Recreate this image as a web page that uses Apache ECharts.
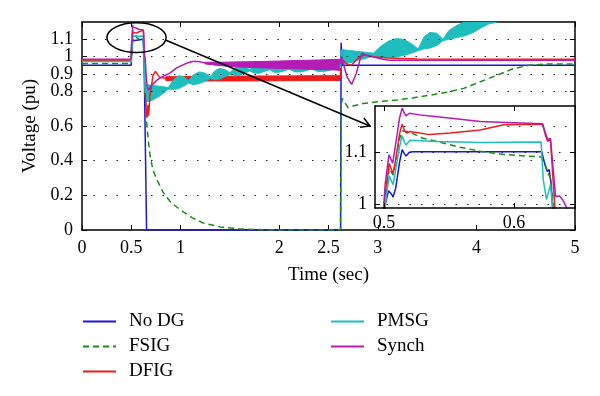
<!DOCTYPE html>
<html><head><meta charset="utf-8">
<script src="https://cdn.jsdelivr.net/npm/echarts@6/dist/echarts.min.js"></script>
<style>html,body{margin:0;padding:0;background:#fff}#c{width:600px;height:396px}</style>
</head><body><div id="c"></div>
<script>
// ---- axes / ticks ----
const xTicks = [0, 0.5, 1, 2, 2.5, 3, 4, 5];
const yTicks = [0, 0.2, 0.4, 0.6, 0.8, 0.9, 1, 1.1];
const yGrid = [0.2, 0.4, 0.6, 0.8, 0.9, 1, 1.1];
const xRange = [0, 5];
const yRange = [0, 1.2];
const insetXTicks = [0.5, 0.6];
const insetYTicks = [1, 1.1];
const insetXRange = [0.4931, 0.6469];
const insetYRange = [0.992, 1.188];
const legendCol1 = ['No DG', 'FSIG', 'DFIG'];
const legendCol2 = ['PMSG', 'Synch'];

// ---- series values [time (sec), voltage (pu)] ----
const noDG = [[0,0.95],[0.4995,0.95],[0.501,1.0],[0.5035,1.025],[0.5046,1.027],[0.506,1.018],[0.507,1.013],[0.509,1.03],[0.512,1.08],[0.514,1.104],[0.5155,1.097],[0.517,1.092],[0.5195,1.099],[0.522,1.1],[0.6213,1.1],[0.6238,1.075],[0.6256,1.062],[0.627,1.066],[0.6285,1.04],[0.6297,0.99],[0.655,0],[2.623,0],[2.628,1.08],[2.638,0.95],[5,0.95]];

const fsig = [[0,0.96],[0.4995,0.96],[0.501,1.0],[0.504,1.069],[0.5055,1.062],[0.507,1.055],[0.509,1.08],[0.512,1.125],[0.514,1.14],[0.5195,1.138],[0.53,1.126],[0.5405,1.12],[0.556,1.11],[0.574,1.101],[0.592,1.095],[0.6208,1.09],[0.624,1.075],[0.626,1.06],[0.628,1.05],[0.6305,0.99],[0.64,0.8],[0.655,0.63],[0.67,0.53],[0.69,0.43],[0.72,0.345],[0.76,0.29],[0.82,0.22],[0.9,0.16],[1.0,0.115],[1.12,0.07],[1.23,0.04],[1.4,0.018],[1.6,0.006],[1.9,0],[2.622,0],[2.628,0.7],[2.64,0.76],[2.66,0.74],[2.7,0.705],[2.75,0.715],[2.85,0.73],[3.0,0.74],[3.19,0.75],[3.35,0.762],[3.53,0.778],[3.7,0.795],[3.87,0.817],[4.04,0.855],[4.21,0.893],[4.37,0.93],[4.54,0.951],[4.71,0.957],[5,0.957]];

const dfig = [[0,0.98],[0.4995,0.98],[0.501,1.02],[0.504,1.078],[0.5055,1.068],[0.507,1.058],[0.509,1.085],[0.512,1.135],[0.514,1.153],[0.516,1.14],[0.5175,1.136],[0.52,1.139],[0.535,1.133],[0.551,1.136],[0.574,1.142],[0.592,1.152],[0.622,1.153],[0.6245,1.129],[0.626,1.12],[0.628,1.124],[0.6315,0.99],[0.64,0.8],[0.65,0.7],[0.66,0.65],[0.668,0.72],[0.676,0.66],[0.69,0.78],[0.72,0.89],[0.745,0.915],[0.785,0.882],[0.85,0.874],[1.2,null],[2.62,0.876],[2.628,0.99],[2.64,1.0],[2.68,0.96],[2.73,0.95],[2.8,0.99],[2.86,1.01],[2.95,1.0],[3.1,0.992],[3.4,0.986],[5,0.985]];
const dfigBandT  = [0.85, 1.2, 1.6, 2.0, 2.4, 2.62];
const dfigBandLo = [0.862, 0.86, 0.86, 0.861, 0.862, 0.862];
const dfigBandHi = [0.884, 0.886, 0.888, 0.889, 0.89, 0.89];

const pmsg = [[0,0.972],[0.4995,0.972],[0.501,1.0],[0.504,1.054],[0.5055,1.045],[0.507,1.037],[0.509,1.065],[0.512,1.11],[0.514,1.131],[0.5155,1.12],[0.517,1.113],[0.52,1.122],[0.5405,1.12],[0.574,1.118],[0.6208,1.119],[0.6225,1.046],[0.625,1.008],[0.628,1.037],[0.63,0.99],[0.64,0.8],[0.645,0.79],[1.5,null],[2.62,0.935],[2.63,1.04],[2.64,1.0]];
const pmsgBandT  = [0.645,0.70,0.78,0.875,0.93,0.98,1.03,1.08,1.13,1.19,1.25,1.30,1.35,1.40,1.45,1.50,1.55,1.60,1.65,1.70,1.75,1.80,1.85,1.90,1.95,2.00,2.05,2.10,2.16,2.22,2.28,2.33,2.39,2.45,2.51,2.56,2.62];
const pmsgBandLo = [0.74,0.745,0.77,0.812,0.812,0.815,0.83,0.848,0.838,0.845,0.858,0.874,0.866,0.872,0.885,0.898,0.89,0.893,0.905,0.918,0.905,0.905,0.915,0.925,0.91,0.91,0.918,0.928,0.912,0.912,0.92,0.93,0.914,0.915,0.92,0.93,0.92];
const pmsgBandHi = [0.84,0.835,0.83,0.822,0.868,0.89,0.885,0.862,0.895,0.912,0.905,0.884,0.92,0.932,0.925,0.908,0.935,0.945,0.94,0.926,0.945,0.951,0.948,0.935,0.948,0.952,0.95,0.936,0.95,0.955,0.952,0.94,0.952,0.955,0.952,0.94,0.955];
const pmsgPostT  = [2.64,2.72,2.80,2.88,2.955,3.03,3.11,3.19,3.27,3.34,3.41,3.47,3.53,3.60,3.66,3.72,3.80,3.88,3.97,4.06,4.13,4.19,4.26,4.40,4.60,4.80,5.0];
const pmsgPostLo = [0.96,0.965,0.98,0.99,1.005,0.995,0.995,0.999,1.008,1.02,1.035,1.045,1.05,1.065,1.092,1.10,1.11,1.12,1.14,1.17,1.19,1.196,1.21,1.23,1.26,1.28,1.30];
const pmsgPostHi = [1.04,1.035,1.03,1.025,1.02,1.06,1.09,1.105,1.098,1.075,1.045,1.115,1.14,1.135,1.10,1.15,1.18,1.20,1.22,1.23,1.22,1.208,1.27,1.32,1.38,1.42,1.45];

const synch = [[0,0.985],[0.4995,0.985],[0.501,1.04],[0.5038,1.094],[0.5055,1.085],[0.5067,1.078],[0.509,1.115],[0.512,1.165],[0.514,1.184],[0.5155,1.175],[0.517,1.169],[0.5195,1.174],[0.53,1.17],[0.55,1.165],[0.574,1.158],[0.60,1.156],[0.622,1.154],[0.624,1.137],[0.626,1.123],[0.628,1.126],[0.632,1.014],[0.635,1.015],[0.6374,1.008],[0.641,0.99],[0.65,0.9],[0.66,0.83],[0.673,0.807],[0.70,0.83],[0.75,0.86],[0.80,0.88],[0.89,0.905],[0.96,0.935],[1.06,0.962],[1.12,0.972],[1.18,0.972],[1.25,0.963],[1.8,null],[2.62,0.955],[2.628,1.0],[2.64,0.98],[2.69,0.88],[2.735,0.84],[2.78,0.9],[2.837,1.02],[2.88,1.01],[2.95,0.999],[3.05,0.985],[3.12,0.98],[5,0.98]];
const synchBandT  = [1.25, 1.4, 1.6, 1.8, 2.0, 2.2, 2.4, 2.62];
const synchBandLo = [0.958, 0.948, 0.94, 0.936, 0.932, 0.929, 0.926, 0.922];
const synchBandHi = [0.968, 0.968, 0.97, 0.972, 0.975, 0.978, 0.981, 0.985];

// ---- annotation (zoom ellipse + arrow), in data units of the main axes ----
const zoomCenter = [0.553, 1.11];
const zoomRadius = [0.30, 0.086];
const arrowFrom = [0.852, 1.095];
const arrowTo = [2.92, 0.6];

const F = 'Liberation Serif';
const COL = {'No DG':'#1616e0', 'FSIG':'#1b8b1b', 'DFIG':'#ee1c1c', 'PMSG':'#1fbebe', 'Synch':'#b51cb5'};

// y tick labels are split over two stacked left axes so close labels (1 / 1.1, 0.8 / 0.9) are all kept
const yLabelsA = yTicks.filter((v, i) => i % 2 === 0);
const yLabelsB = yTicks.filter((v, i) => i % 2 === 1);

function ln(name, data, inset, extra) {
  const c = COL[name];
  return Object.assign({
    type: 'line', name, data,
    xAxisIndex: inset ? 2 : 0, yAxisIndex: inset ? 2 : 0,
    symbol: 'none', showSymbol: false, connectNulls: false, clip: true,
    z: inset ? 6 : 2, silent: true,
    lineStyle: { color: c, width: 1.5 }, itemStyle: { color: c }
  }, extra || {});
}
// oscillation envelope drawn as a filled polygon between its lower and upper bounds
function band(name, key, t, lo, hi) {
  const c = COL[name];
  return {
    type: 'custom', name: key, coordinateSystem: 'cartesian2d', xAxisIndex: 0, yAxisIndex: 0,
    z: 2, silent: true, clip: true,
    data: t.map((x, i) => [x, lo[i], hi[i]]),
    encode: { x: 0, y: [1, 2] },
    renderItem: function (params, api) {
      if (params.dataIndex !== 0) return null;
      const up = t.map((x, i) => api.coord([x, hi[i]]));
      const dn = t.map((x, i) => api.coord([x, lo[i]])).reverse();
      const cs = params.coordSys;
      return {
        type: 'polygon',
        shape: { points: up.concat(dn) },
        style: { fill: c, stroke: c, lineWidth: 1 },
        clipPath: { type: 'rect', shape: { x: cs.x, y: cs.y, width: cs.width, height: cs.height } }
      };
    }
  };
}
function dotted(vals) {
  return { silent:true, symbol:['none','none'], label:{show:false}, animation:false,
    lineStyle:{type:[1.5,10], color:'#222', width:1}, emphasis:{disabled:true},
    data: vals.map(v=>({yAxis:v})) };
}
const lbl = { color:'#000', fontFamily:F, fontSize:18, hideOverlap:false, showMinLabel:true, showMaxLabel:true };
const axLine = { show:true, onZero:false, lineStyle:{color:'#000', width:1.5} };

function ax(grid, pos, range, ticks, showLabel, extra) {
  return Object.assign({
    gridIndex: grid, type:'value', position: pos, min: range[0], max: range[1],
    axisLine: axLine,
    axisTick: { show:true, inside:true, length:5, customValues:ticks, lineStyle:{color:'#000', width:1} },
    axisLabel: Object.assign({ show: showLabel, customValues: ticks }, lbl),
    splitLine: { show:false }
  }, extra || {});
}
const legendText = {fontFamily:F, fontSize:19, color:'#000', lineHeight:19, padding:[0,0,0,8]};

const option = {
  animation: false,
  backgroundColor: '#fff',
  grid: [
    { left: 82, top: 22, width: 493, height: 208, show: false },
    { left: 375, top: 106, width: 200, height: 102, show: true, backgroundColor: '#fff', borderWidth: 0, z: 5 }
  ],
  xAxis: [
    ax(0, 'bottom', xRange, xTicks, true, { name:'Time (sec)', nameLocation:'middle', nameGap:36,
      nameTextStyle:{color:'#000', fontFamily:F, fontSize:19}, axisLabel: Object.assign({customValues:xTicks, margin:9}, lbl) }),
    ax(0, 'top', xRange, xTicks, false),
    ax(1, 'bottom', insetXRange, insetXTicks, true, { z:7, axisLabel: Object.assign({customValues:insetXTicks, margin:6}, lbl) }),
    ax(1, 'top', insetXRange, insetXTicks, false, { z:7 })
  ],
  yAxis: [
    ax(0, 'left', yRange, yTicks, true, { name:'Voltage (pu)', nameLocation:'middle', nameGap:40,
      nameTextStyle:{color:'#000', fontFamily:F, fontSize:19}, axisLabel: Object.assign({customValues:yLabelsA, margin:9}, lbl) }),
    ax(0, 'right', yRange, yTicks, false),
    ax(1, 'left', insetYRange, insetYTicks, true, { z:7, axisLabel: Object.assign({customValues:insetYTicks, margin:8}, lbl) }),
    ax(1, 'right', insetYRange, insetYTicks, false, { z:7 }),
    ax(0, 'left', yRange, yLabelsB, true, { axisLine:{show:false, onZero:false}, axisTick:{show:false},
      axisLabel: Object.assign({customValues:yLabelsB, margin:9}, lbl) })
  ],
  legend: [
    { data: legendCol1, orient:'vertical', left:82, top:312, padding:0, itemWidth:33, itemHeight:14, itemGap:6,
      selectedMode:false, itemStyle:{opacity:0}, textStyle: legendText },
    { data: legendCol2, orient:'vertical', left:330, top:312, padding:0, itemWidth:33, itemHeight:14, itemGap:6,
      selectedMode:false, itemStyle:{opacity:0}, textStyle: legendText }
  ],
  series: [
    ln('No DG', noDG, false, { markLine: dotted(yGrid) }),
    ln('FSIG', fsig, false, { lineStyle:{color:COL['FSIG'], width:1.5, type:[6,4]} }),
    ln('DFIG', dfig, false),
    band('DFIG', 'dfigBand', dfigBandT, dfigBandLo, dfigBandHi),
    ln('PMSG', pmsg, false),
    band('PMSG', 'pmsgBand', pmsgBandT, pmsgBandLo, pmsgBandHi),
    band('PMSG', 'pmsgPost', pmsgPostT, pmsgPostLo, pmsgPostHi),
    ln('Synch', synch, false),
    band('Synch', 'synchBand', synchBandT, synchBandLo, synchBandHi),
    // inset
    ln('No DG', noDG, true, { markLine: Object.assign(dotted(insetYTicks), {z:6}) }),
    ln('FSIG', fsig, true, { lineStyle:{color:COL['FSIG'], width:1.5, type:[6,4]} }),
    ln('DFIG', dfig, true),
    ln('PMSG', pmsg, true),
    ln('Synch', synch, true)
  ]
};

const chart = echarts.init(document.getElementById('c'), null, { renderer: 'canvas' });
chart.setOption(option);

// annotation placed through the main axes' scales
const px = v => chart.convertToPixel({ xAxisIndex: 0, yAxisIndex: 0 }, v);
const c0 = px(zoomCenter);
const cR = px([zoomCenter[0] + zoomRadius[0], zoomCenter[1] + zoomRadius[1]]);
const a0 = px(arrowFrom), a1 = px(arrowTo);
const ang = Math.atan2(a1[1] - a0[1], a1[0] - a0[0]);
const hl = 10, ha = Math.PI / 6;
chart.setOption({
  graphic: [
    { type:'ellipse', z:100, silent:true, shape:{ cx:c0[0], cy:c0[1], rx:Math.abs(cR[0]-c0[0]), ry:Math.abs(cR[1]-c0[1]) },
      style:{ fill:'none', stroke:'#000', lineWidth:1.5 } },
    { type:'line', z:100, silent:true, shape:{ x1:a0[0], y1:a0[1], x2:a1[0], y2:a1[1] }, style:{ stroke:'#000', lineWidth:1.5 } },
    { type:'polyline', z:100, silent:true, shape:{ points:[
        [a1[0] - hl*Math.cos(ang-ha), a1[1] - hl*Math.sin(ang-ha)], a1,
        [a1[0] - hl*Math.cos(ang+ha), a1[1] - hl*Math.sin(ang+ha)] ] },
      style:{ fill:'none', stroke:'#000', lineWidth:1.5 } }
  ]
});
</script></body></html>
